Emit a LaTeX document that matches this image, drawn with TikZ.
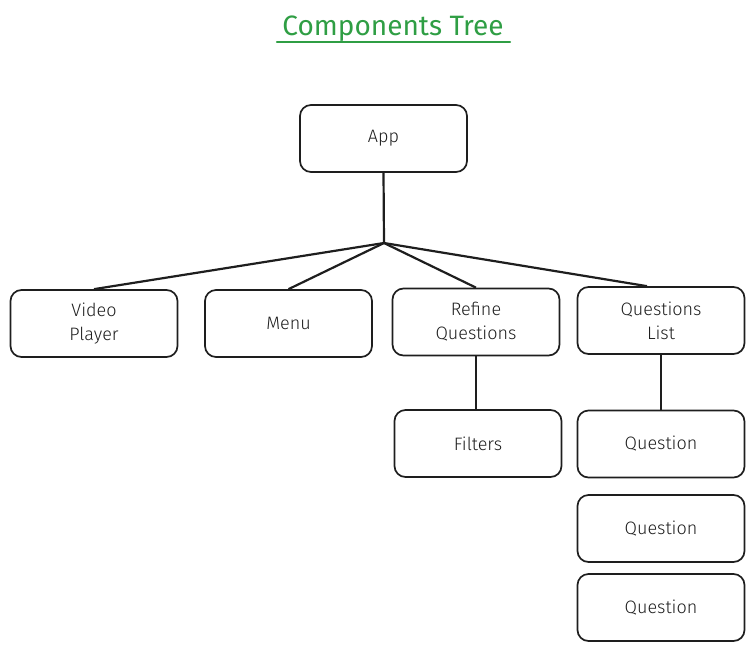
\documentclass[tikz,border=0pt]{standalone}
\usepackage{fontspec}
\setmainfont{Fira Sans Light}
\newfontfamily\titlefont{Fira Sans}
\definecolor{exgreen}{HTML}{2F9E44}
\definecolor{exink}{HTML}{1E1E1E}
\begin{document}
\begin{tikzpicture}[x=1pt,y=-1pt,
  box/.style={draw=exink,line width=1.7pt,rounded corners=11pt,minimum width=167pt,minimum height=67pt,align=center,font=\fontsize{18}{24}\selectfont,text=exink,inner sep=0pt},
  link/.style={draw=exink,line width=2.2pt}]
\useasboundingbox (0,0) rectangle (754,651);
\node[font=\titlefont\fontsize{28}{32}\selectfont,text=exgreen] (title) at (393,29) {Components Tree};
\draw[exgreen,line width=2.2pt,line cap=round] (277,42) -- (510,42);
\node[box] (app) at (383.5,138.5) {App};
\node[box] (vp) at (94,323.5) {Video\\Player};
\node[box] (menu) at (288.5,323.5) {Menu};
\node[box] (rq) at (476,322) {Refine\\Questions};
\node[box] (ql) at (661,320.5) {Questions\\List};
\node[box] (fil) at (478,443.5) {Filters};
\node[box] (q1) at (661,444) {Question};
\node[box] (q2) at (661,528.5) {Question};
\node[box] (q3) at (661,607.5) {Question};
\coordinate (j) at (384,243);
\draw[link] (app.south) -- (j);
\draw[link] (j) -- (vp.north);
\draw[link] (j) -- (menu.north);
\draw[link] (j) -- (rq.north);
\draw[link] (j) -- ([xshift=-14pt]ql.north);
\draw[link] (rq.south) -- (fil.north -| rq.south);
\draw[link] (ql.south) -- (q1.north);
\end{tikzpicture}
\end{document}
